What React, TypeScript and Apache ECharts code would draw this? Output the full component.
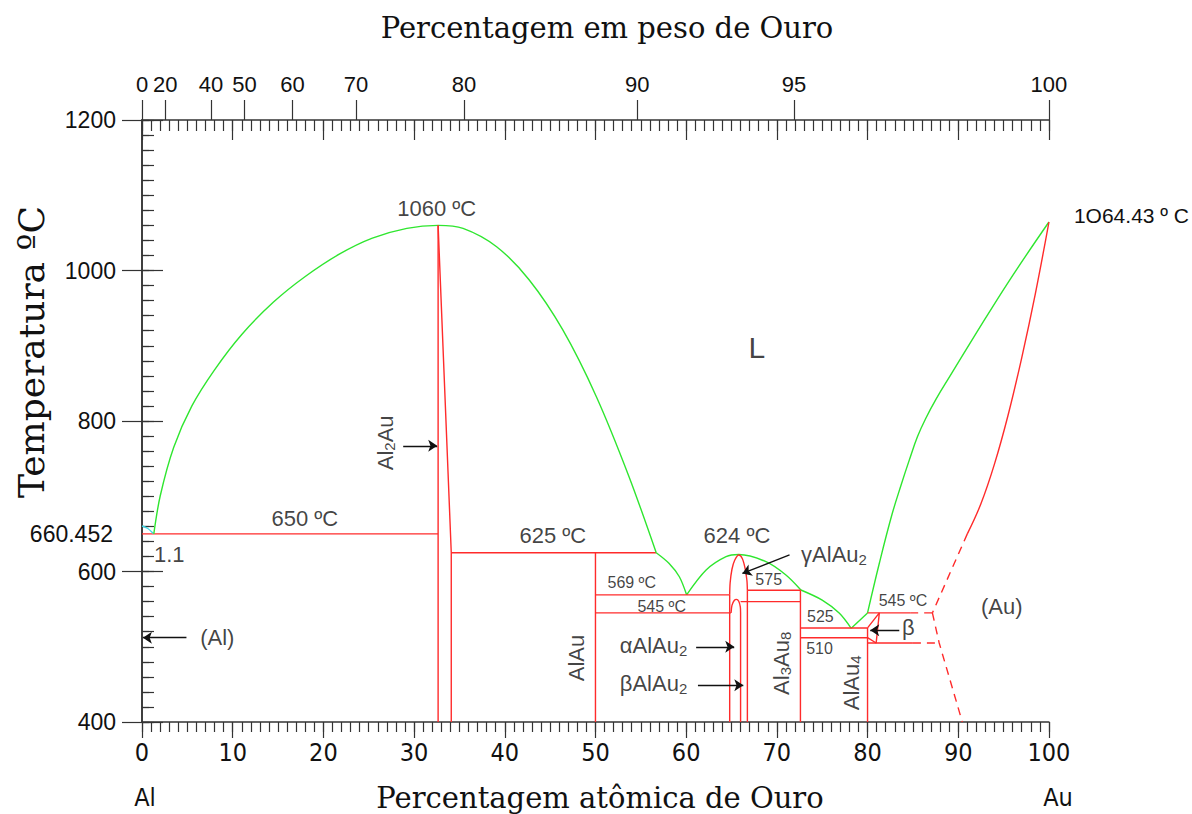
import React, { useEffect, useRef } from 'react';
import * as echarts from 'echarts';

// ---------- data (atomic % Au, temperature °C) ----------
const weightLabels = ['0', '20', '40', '50', '60', '70', '80', '90', '95', '100'];
const weightTickAt = [0, 2.55, 7.6, 11.3, 16.6, 23.6, 35.5, 54.6, 71.9, 100];

const liqAlMelt = [[0, 660.45], [0.6, 657.5], [1.3, 650]];
const liqAl2AuDome = [
  [1.3, 650], [2.0, 700], [3.5, 765], [5.5, 820], [8.0, 868], [11.0, 915], [14.5, 958],
  [18.0, 992], [21.8, 1022], [25.4, 1043], [29.2, 1056], [32.65, 1060],
  [35.4, 1056], [39.1, 1031.6], [42.7, 987.4], [46.4, 921], [50.1, 832.3], [53.7, 726], [56.7, 625],
];
const liqAlAuTail = [[56.7, 625], [58.1, 611], [59.25, 593], [60.05, 569]];
const liqGamma = [[60.05, 569], [62.2, 602], [64.4, 619.7], [65.8, 622.5], [68.8, 613], [71.0, 595.3], [72.65, 575.4]];
const liqAl3Au8 = [[72.65, 575.4], [75.0, 562], [76.9, 544.5], [78.2, 524.5]];
const liqAlAu4 = [[78.2, 524.5], [80, 545]];
const liqAu = [
  [80, 545], [81.3, 611], [82.7, 676], [83.7, 715], [84.6, 748], [85.5, 779], [86.4, 803],
  [87.6, 830], [89.0, 858], [91.9, 915], [95.6, 986], [100, 1064.43],
];

const al2auLeft = [[32.65, 400], [32.65, 1060]];
const al2auRight = [[32.65, 1060], [34.1, 625], [34.1, 400]];
const iso650 = [[0, 650], [32.65, 650]];
const iso625 = [[34.1, 625], [56.7, 625]];
const alAuLine = [[50, 400], [50, 625]];
const iso569 = [[50, 569], [64.8, 569]];
const iso545a = [[50, 545], [64.95, 545]];
const gammaLeft = [[64.8, 400], [64.8, 569]];
const gammaDome = [[64.8, 569], [64.85, 585], [65.05, 603], [65.35, 615], [65.8, 622], [66.2, 617], [66.5, 604], [66.7, 588], [66.75, 575]];
const gammaRight = [[66.75, 400], [66.75, 575]];
const innerArch = [[64.95, 545], [65.05, 555], [65.3, 561.5], [65.55, 563], [65.8, 560.5], [65.97, 553], [66.0, 545]];
const innerRight = [[66.0, 400], [66.0, 545]];
const iso560 = [[66.0, 560], [72.6, 560]];
const iso575 = [[66.75, 575], [72.6, 575]];
const al3au8Line = [[72.6, 400], [72.6, 575]];
const iso525 = [[72.6, 525], [80, 525]];
const iso512 = [[72.6, 512], [80, 512]];
const alAu4Line = [[80, 400], [80, 525]];
const betaLines = [[80, 525], [81.3, 545], [80.95, 505], [80, 512]];
const iso545b = [[80, 545], [84.7, 545]];
const iso545bDash = [[84.7, 545], [87.15, 545]];
const iso505 = [[80, 505], [85, 505]];
const iso505Dash = [[85, 505], [87.9, 505]];
const auSolidus = [[100, 1064.43], [98.5, 969], [97.0, 884], [95.5, 808], [94.0, 743], [92.5, 690], [91.0, 650]];
const auSolidusDash = [[91.0, 650], [87.15, 545]];
const auSolvusDash = [[87.15, 545], [87.9, 505], [90.45, 400]];

// arrows: [x1, y1, x2, y2] in data units (head at the second point)
const arrowSegs = [
  [4.9, 512, 0.1, 512],
  [28.8, 767, 32.55, 767],
  [71.4, 622, 66.2, 597.5],
  [61.1, 500, 65.3, 500],
  [61.3, 449, 66.3, 449],
  [83.5, 522, 80.3, 522],
];

// annotation texts anchored in data units
const tempNotes = [
  { text: '1060 ºC', x: 32.5, y: 1082, big: true },
  { text: '650 ºC', x: 17.95, y: 671, big: true },
  { text: '625 ºC', x: 45.3, y: 648.5, big: true },
  { text: '624 ºC', x: 65.6, y: 648.5, big: true },
  { text: '569 ºC', x: 54.0, y: 585, big: false },
  { text: '545 ºC', x: 57.3, y: 554, big: false },
  { text: '575', x: 69.1, y: 589, big: false },
  { text: '525', x: 74.8, y: 540, big: false },
  { text: '510', x: 74.7, y: 498, big: false },
  { text: '545 ºC', x: 83.9, y: 561, big: false },
];
const phaseNotes = [
  { text: '{n|Al}{s|2}{n|Au}', x: 26.8, y: 771, rot: 90 },
  { text: '{n|AlAu}', x: 47.9, y: 485, rot: 90 },
  { text: '{n|Al}{s|3}{n|Au}{s|8}', x: 70.5, y: 478, rot: 90 },
  { text: '{n|AlAu}{s|4}', x: 78.2, y: 452, rot: 90 },
  { text: '{n|γAlAu}{s|2}', x: 76.3, y: 622, rot: 0 },
  { text: '{n|αAlAu}{s|2}', x: 56.4, y: 501, rot: 0 },
  { text: '{n|βAlAu}{s|2}', x: 56.4, y: 451, rot: 0 },
  { text: '{n|β}', x: 84.5, y: 525, rot: 0 },
  { text: '{n|(Al)}', x: 8.3, y: 512, rot: 0 },
  { text: '{n|(Au)}', x: 94.8, y: 553, rot: 0 },
  { text: '{n|1.1}', x: 3.0, y: 622, rot: 0 },
  { text: '{L|L}', x: 67.8, y: 898, rot: 0 },
];

// ---------- styles ----------
const RED = '#ff2b2b';
const GREEN = '#2fe62f';
const CYAN = '#3fd8e6';
const AXIS = '#333333';
const TEXT = '#111111';
const SANS = "'Liberation Sans', Arial, sans-serif";
const NARROW = "'Liberation Sans Narrow', 'DejaVu Sans Condensed', 'Liberation Sans', sans-serif";
const SERIF = "'DejaVu Serif', serif";

function lineSeries(data: number[][], color: string, opts: any = {}) {
  return {
    type: 'line',
    data,
    showSymbol: false,
    symbol: 'none',
    silent: true,
    smooth: opts.smooth ?? false,
    lineStyle: { color, width: opts.width ?? 1.4, type: opts.dashed ? [8, 6] : 'solid' },
    z: opts.z ?? 3,
  };
}

export default function App() {
  const ref = useRef<HTMLDivElement>(null);
  useEffect(() => {
    if (!ref.current) return;
    const chart = echarts.init(ref.current, undefined, { renderer: 'svg' });
    const richBase = {
      n: { fontSize: 22, fontFamily: SANS, color: TEXT, lineHeight: 24 },
      s: { fontSize: 15, fontFamily: SANS, color: TEXT, lineHeight: 10, verticalAlign: 'bottom' },
      L: { fontSize: 30, fontFamily: SANS, color: TEXT, lineHeight: 32 },
    };
    const xBase = { type: 'value', min: 0, max: 100, splitLine: { show: false } };
    const yBase = { type: 'value', min: 400, max: 1200, splitLine: { show: false } };
    const tickStyle = { color: AXIS, width: 1.2 };
    const titleStyle = (text: string, size: number, family: string) => ({
      text, font: `${size}px ${family}`, fill: TEXT,
      textAlign: 'center', textVerticalAlign: 'middle', align: 'center', verticalAlign: 'middle',
    });
    const option: any = {
      animation: false,
      backgroundColor: '#ffffff',
      grid: { left: 142, right: 142, top: 120, bottom: 92, containLabel: false },
      xAxis: [
        {
          ...xBase, position: 'bottom', interval: 10,
          axisLine: { show: true, lineStyle: { color: AXIS, width: 1.5 } },
          axisTick: { show: true, length: 16, lineStyle: tickStyle },
          axisLabel: { margin: 18, fontSize: 25, fontFamily: NARROW, color: TEXT },
        },
        {
          ...xBase, position: 'bottom', interval: 1,
          axisLine: { show: false }, axisTick: { show: true, length: 10, lineStyle: tickStyle },
          axisLabel: { show: false },
        },
        {
          ...xBase, position: 'top', interval: 1,
          axisLine: { show: true, lineStyle: { color: AXIS, width: 1.5 } },
          axisTick: { show: true, inside: true, length: 11, lineStyle: tickStyle },
          axisLabel: { show: false },
        },
        {
          ...xBase, position: 'top', interval: 10,
          axisLine: { show: false },
          axisTick: { show: true, inside: true, length: 20, lineStyle: tickStyle },
          axisLabel: { show: false },
        },
        {
          ...xBase, position: 'top',
          axisLine: { show: false },
          axisTick: { show: true, length: 20, customValues: weightTickAt, lineStyle: tickStyle },
          axisLabel: {
            show: true, margin: 25, fontSize: 22, fontFamily: SANS, color: TEXT,
            customValues: weightTickAt,
            formatter: (v: number) => {
              let best = 0;
              weightTickAt.forEach((p, i) => { if (Math.abs(p - v) < Math.abs(weightTickAt[best] - v)) best = i; });
              return weightLabels[best];
            },
          },
        },
      ],
      yAxis: [
        {
          ...yBase, position: 'left', interval: 200,
          axisLine: { show: true, lineStyle: { color: AXIS, width: 1.5 } },
          axisTick: { show: true, length: 20, lineStyle: tickStyle },
          axisLabel: { margin: 26, fontSize: 23, fontFamily: SANS, color: TEXT, formatter: (v: number) => String(v) },
        },
        {
          ...yBase, position: 'left', interval: 20,
          axisLine: { show: false },
          axisTick: { show: true, inside: true, length: 7, lineStyle: tickStyle },
          axisLabel: { show: false },
        },
        {
          ...yBase, position: 'right', interval: 200,
          axisLine: { show: true, lineStyle: { color: AXIS, width: 1.5 } },
          axisTick: { show: true, length: 21, lineStyle: tickStyle },
          axisLabel: { show: false },
        },
        {
          ...yBase, position: 'right', interval: 20,
          axisLine: { show: false },
          axisTick: { show: true, length: 12, lineStyle: tickStyle },
          axisLabel: { show: false },
        },
        {
          ...yBase, position: 'left',
          axisLine: { show: false }, axisTick: { show: false },
          axisLabel: {
            show: true, margin: 29, fontSize: 23, fontFamily: SANS, color: TEXT,
            customValues: [660.452], formatter: () => '660.452',
            verticalAlign: 'top', lineHeight: 16,
          },
        },
        {
          ...yBase, position: 'right',
          axisLine: { show: false }, axisTick: { show: false },
          axisLabel: {
            show: true, margin: 25, fontSize: 21, fontFamily: SANS, color: TEXT,
            customValues: [1064.43], formatter: () => '1O64.43 º C',
            verticalAlign: 'bottom', lineHeight: 14,
          },
        },
      ],
      graphic: [
        { type: 'text', x: 607, y: 28, silent: true, style: titleStyle('Percentagem em peso de Ouro', 29, SERIF) },
        { type: 'text', x: 600, y: 798, silent: true, style: titleStyle('Percentagem atômica de Ouro', 29, SERIF) },
        { type: 'text', x: 31, y: 352, rotation: Math.PI / 2, silent: true, style: titleStyle('Temperatura ºC', 36, SERIF) },
        { type: 'text', x: 145, y: 797, silent: true, style: titleStyle('Al', 25, NARROW) },
        { type: 'text', x: 1058, y: 797, silent: true, style: titleStyle('Au', 25, NARROW) },
      ],
      series: [
        lineSeries(liqAlMelt, CYAN, { smooth: 0.3 }),
        lineSeries(liqAl2AuDome, GREEN, { smooth: 0.3 }),
        lineSeries(liqAlAuTail, GREEN, { smooth: 0.3 }),
        lineSeries(liqGamma, GREEN, { smooth: 0.3 }),
        lineSeries(liqAl3Au8, GREEN, { smooth: 0.3 }),
        lineSeries(liqAlAu4, GREEN),
        lineSeries(liqAu, GREEN, { smooth: 0.4 }),
        lineSeries(al2auLeft, RED),
        lineSeries(al2auRight, RED),
        lineSeries(iso650, RED, { z: 2 }),
        lineSeries(iso625, RED, { z: 2 }),
        lineSeries(alAuLine, RED),
        lineSeries(iso569, RED),
        lineSeries(iso545a, RED),
        lineSeries(gammaLeft, RED),
        lineSeries(gammaDome, RED, { smooth: 0.3 }),
        lineSeries(gammaRight, RED),
        lineSeries(innerArch, RED, { smooth: 0.3 }),
        lineSeries(innerRight, RED),
        lineSeries(iso560, RED),
        lineSeries(iso575, RED),
        lineSeries(al3au8Line, RED),
        lineSeries(iso525, RED),
        lineSeries(iso512, RED),
        lineSeries(alAu4Line, RED),
        lineSeries(betaLines, RED),
        lineSeries(iso545b, RED),
        lineSeries(iso545bDash, RED, { dashed: true }),
        lineSeries(iso505, RED),
        lineSeries(iso505Dash, RED, { dashed: true }),
        lineSeries(auSolidus, RED, { smooth: 0.4 }),
        lineSeries(auSolidusDash, RED, { dashed: true }),
        lineSeries(auSolvusDash, RED, { dashed: true }),
        {
          type: 'lines',
          coordinateSystem: 'cartesian2d',
          silent: true,
          symbol: ['none', 'arrow'],
          symbolSize: 9,
          lineStyle: { color: '#111111', width: 1.3, opacity: 1 },
          data: arrowSegs.map((a) => ({ coords: [[a[0], a[1]], [a[2], a[3]]] })),
          z: 5,
        },
        {
          type: 'scatter',
          silent: true,
          symbolSize: 1,
          itemStyle: { color: 'transparent' },
          z: 6,
          data: tempNotes.map((t) => ({
            value: [t.x, t.y],
            label: {
              show: true, position: 'inside', formatter: t.text,
              fontSize: t.big ? 22 : 16, fontFamily: SANS, color: TEXT,
            },
          })),
        },
        {
          type: 'scatter',
          silent: true,
          symbolSize: 1,
          itemStyle: { color: 'transparent' },
          z: 6,
          data: phaseNotes.map((t) => ({
            value: [t.x, t.y],
            label: {
              show: true, position: 'inside', formatter: t.text, rotate: t.rot,
              rich: richBase,
            },
          })),
        },
      ],
    };
    chart.setOption(option);
    return () => chart.dispose();
  }, []);
  return <div ref={ref} style={{ position: 'absolute', left: 0, top: 0, width: 1192, height: 814 }} />;
}
